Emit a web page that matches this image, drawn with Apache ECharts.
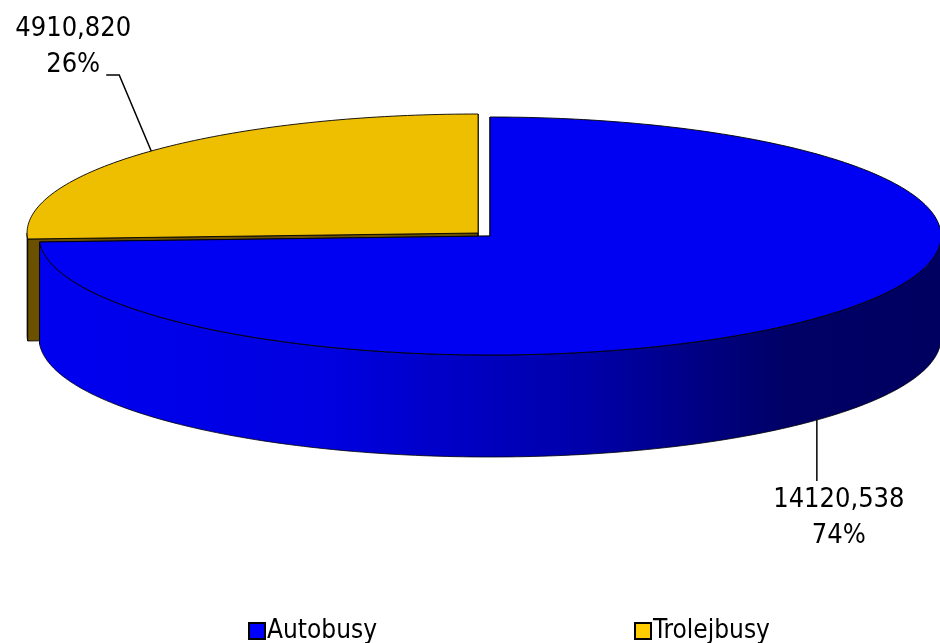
<!DOCTYPE html>
<html><head><meta charset="utf-8">
<script src="https://cdn.jsdelivr.net/npm/echarts@6/dist/echarts.min.js"></script>
<style>html,body{margin:0;padding:0;background:#fff}#c{width:940px;height:643px}</style>
</head><body><div id="c"></div>
<script>
// ---- data ----
const categories = ['Autobusy', 'Trolejbusy'];
const values = [14120.538, 4910.820];

// ---- styles ----
const FONT = '"DejaVu Sans Condensed", "DejaVu Sans", Tahoma, sans-serif';
const legendColors = ['#0000ff', '#ffcc00'];
const topColors = ['#0000f2', '#eebf00'];
const explode = [0, 0.0365];
const CX = 490, CY = 236, RX = 451, RY = 119, DEPTH = 102;
const sideFills = [
  new echarts.graphic.LinearGradient(CX - RX, 0, CX + RX, 0, [
    {offset: 0, color: '#0000f0'}, {offset: 0.32, color: '#0000e0'},
    {offset: 0.61, color: '#0000a8'}, {offset: 0.83, color: '#000066'},
    {offset: 1, color: '#000060'}], true),
  '#6b5000'
];
const cutFills = ['#0000c0', '#6b5000'];
// leader line shape + text offset (relative to anchor)
const leaders = [
  {anchor: 'bottom', pts: [[0, 61]], text: [22, 98]},
  {anchor: 'top', pts: [[-32, -76], [-45, -76]], text: [-78, -104]}
];

const total = values.reduce((s, v) => s + v, 0);
let cum = 0;
const slices = values.map((v, i) => {
  const a0 = 90 - 360 * cum / total;
  cum += v;
  const a1 = 90 - 360 * cum / total;
  const m = (a0 + a1) / 2, mr = m * Math.PI / 180, f = explode[i];
  return {a0, a1, m, cx: CX + f * RX * Math.cos(mr), cy: CY - f * RY * Math.sin(mr)};
});

function pt(a, cx, cy, dz) {
  const r = a * Math.PI / 180;
  return [cx + RX * Math.cos(r), cy - RY * Math.sin(r) + (dz || 0)];
}
function arc(a0, a1, cx, cy, dz) {
  const n = Math.max(2, Math.ceil(Math.abs(a1 - a0)) + 1), pts = [];
  for (let i = 0; i < n; i++) pts.push(pt(a0 + (a1 - a0) * i / (n - 1), cx, cy, dz));
  return pts;
}
function fmt(v) { return v.toFixed(3).replace('.', ','); }

function makeRender(i) {
  return function (params, api) {
    const s = slices[i];
    const base = 50 - 20 * Math.sin(s.m * Math.PI / 180);
    const ch = [];
    // cut faces
    [s.a0, s.a1].forEach(a => {
      const p = pt(a, s.cx, s.cy);
      ch.push({type: 'polygon', z2: base,
        shape: {points: [[s.cx, s.cy], p, [p[0], p[1] + DEPTH], [s.cx, s.cy + DEPTH]]},
        style: {fill: cutFills[i], stroke: '#000', lineWidth: 0.8}});
    });
    // outer wall (front half only)
    for (let k = -1; k <= 1; k++) {
      const lo = Math.max(s.a1, -180 + 360 * k), hi = Math.min(s.a0, 360 * k);
      if (lo < hi) {
        const pts = arc(hi, lo, s.cx, s.cy, 0).concat(arc(lo, hi, s.cx, s.cy, DEPTH));
        ch.push({type: 'polygon', z2: base + 1, shape: {points: pts},
          style: {fill: sideFills[i], stroke: '#000', lineWidth: 0.8}});
      }
    }
    // top
    ch.push({type: 'polygon', z2: 100,
      shape: {points: [[s.cx, s.cy]].concat(arc(s.a0, s.a1, s.cx, s.cy, 0))},
      style: {fill: topColors[i], stroke: '#000', lineWidth: 0.9}});
    // label
    const L = leaders[i];
    const anc = pt(s.m, s.cx, s.cy, L.anchor === 'bottom' ? DEPTH : 0);
    const lp = [anc].concat(L.pts.map(q => [anc[0] + q[0], anc[1] + q[1]]));
    ch.push({type: 'polyline', z2: 200, shape: {points: lp},
      style: {stroke: '#000', lineWidth: 1.5, fill: null}});
    const pct = Math.round(values[i] / total * 100) + '%';
    ch.push({type: 'text', z2: 200, x: anc[0] + L.text[0], y: anc[1] + L.text[1],
      style: {text: fmt(values[i]) + '\n' + pct, font: '27px ' + FONT, fill: '#000',
        align: 'center', verticalAlign: 'middle', textAlign: 'center', textVerticalAlign: 'middle',
        lineHeight: 36}});
    return {type: 'group', children: ch};
  };
}

const chart = echarts.init(document.getElementById('c'));
chart.setOption({
  animation: false,
  backgroundColor: '#ffffff',
  legend: {
    data: categories, left: 248, top: 618, itemGap: 257, padding: 0,
    itemWidth: 16, itemHeight: 16, icon: 'rect', selectedMode: false,
    itemStyle: {borderColor: '#000', borderWidth: 2},
    textStyle: {fontFamily: FONT, fontSize: 26, color: '#000', padding: [0, 0, 0, -3]}
  },
  series: categories.map((name, i) => ({
    type: 'custom', name: name, coordinateSystem: 'none',
    itemStyle: {color: legendColors[i]},
    data: [[values[i]]],
    renderItem: makeRender(i)
  }))
});
</script></body></html>
